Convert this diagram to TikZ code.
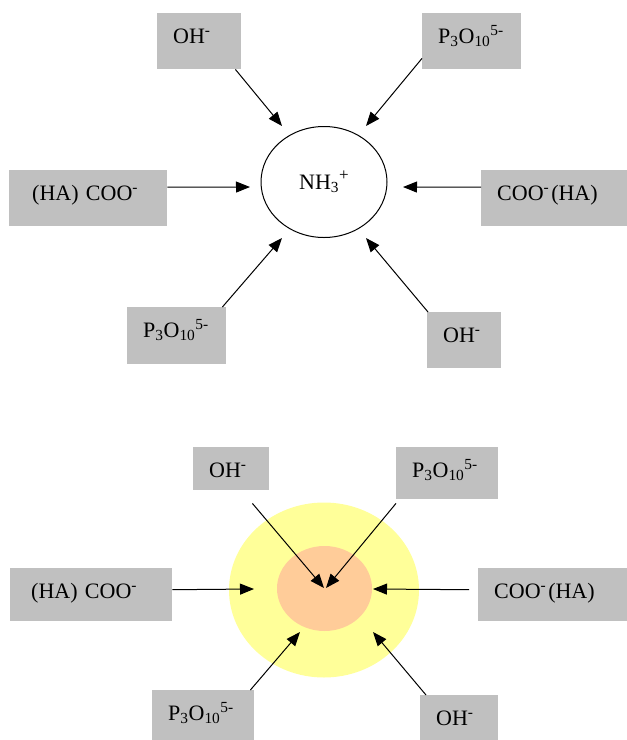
\documentclass[tikz,border=0pt]{standalone}
\usepackage{fontspec}
\setmainfont{Liberation Serif}
\usetikzlibrary{arrows.meta,shapes.geometric}
\definecolor{ionbg}{HTML}{C0C0C0}
\definecolor{shellyellow}{HTML}{FFFF99}
\definecolor{corepeach}{HTML}{FFCC99}
\newcommand{\ohion}{OH\textsuperscript{-}}
\newcommand{\tripoly}{P\textsubscript{3}O\textsubscript{10}\textsuperscript{5-}}
\newcommand{\cooleft}{(HA) COO\textsuperscript{-}}
\newcommand{\cooright}{COO\textsuperscript{-}\hspace{2pt}(HA)}

\begin{document}
\begin{tikzpicture}[x=1pt,y=-1pt,
 font=\fontsize{22}{26}\selectfont,
 ionbox/.style={fill=ionbg,anchor=north west,align=left,inner xsep=16pt,inner ysep=0pt,text height=30pt},
 ammonium/.style={draw,line width=1pt,ellipse,minimum width=126pt,minimum height=111pt,inner sep=0pt},
 ionarrow/.style={-{Triangle[length=14pt,width=11pt]},line width=1pt}
]
\useasboundingbox (0,0) rectangle (627,740);
% upper scheme
\node[ammonium] (nh) at (324,182) {NH\textsubscript{3}\raisebox{9pt}{\fontsize{17}{17}\selectfont +}};
\node[ionbox,text width=52pt,text depth=26pt] (ohA) at (157,13) {\ohion};
\node[ionbox,text width=67pt,text depth=26pt] (pA) at (422,13) {\tripoly};
\node[ionbox,text width=126pt,text depth=26pt] (cooA) at (9,170) {\hspace*{7pt}\cooleft};
\node[ionbox,text width=118pt,text depth=26pt] (cooB) at (481,170) {\cooright};
\node[ionbox,text width=67pt,text depth=27pt] (pB) at (127,307) {\tripoly};
\node[ionbox,text width=42pt,text depth=26pt] (ohB) at (427,312) {\ohion};
\coordinate (tipA) at (282,126);
\coordinate (tipB) at (366,126);
\coordinate (tipC) at (250,187);
\coordinate (tipD) at (403,187);
\coordinate (tipE) at (282,238);
\coordinate (tipF) at (366,238);
\draw[ionarrow] ([xshift=-6pt]ohA.south east) -- (tipA);
\draw[ionarrow] ([yshift=11pt]pA.south west) -- (tipB);
\draw[ionarrow] ([yshift=11pt]cooA.east) -- (tipC);
\draw[ionarrow] ([yshift=11pt]cooB.west) -- (tipD);
\draw[ionarrow] ([xshift=-4pt]pB.north east) -- (tipE);
\draw[ionarrow] ([xshift=1pt]ohB.north west) -- (tipF);
% lower scheme
\node[ellipse,fill=shellyellow,minimum width=190pt,minimum height=175pt,inner sep=0pt] (shell) at (324,590) {};
\node[ellipse,fill=corepeach,minimum width=95pt,minimum height=85pt,inner sep=0pt] (core) at (324.5,588.5) {};
\node[ionbox,text width=44pt,text depth=13pt] (ohC) at (193,447) {\ohion};
\node[ionbox,text width=70pt,text depth=22pt] (pC) at (396,447) {\tripoly};
\node[ionbox,text width=130pt,text depth=23pt] (cooC) at (10,568) {\hspace*{5pt}\cooleft};
\node[ionbox,text width=123pt,text depth=23pt] (cooD) at (478,568) {\cooright};
\node[ionbox,text width=70pt,text depth=27pt] (pD) at (152,690) {\tripoly};
\node[ionbox,text width=46pt,text depth=22pt] (ohD) at (420,695) {\ohion};
\coordinate (tipG) at (324,588);
\coordinate (tipH) at (326,588);
\coordinate (tipI) at (254,589);
\coordinate (tipJ) at (373,589);
\coordinate (tipK) at (300,632);
\coordinate (tipL) at (373,632);
\draw[ionarrow] ([shift={(-17pt,-13pt)}]ohC.south east) -- (tipG);
\draw[ionarrow] ([yshift=-4pt]pC.south west) -- (tipH);
\draw[ionarrow] ([yshift=5pt]cooC.east) -- (tipI);
\draw[ionarrow] ([shift={(-9pt,5pt)}]cooD.west) -- (tipJ);
\draw[ionarrow] ([xshift=-4pt]pD.north east) -- (tipK);
\draw[ionarrow] ([xshift=6pt]ohD.north west) -- (tipL);
\end{tikzpicture}
\end{document}
